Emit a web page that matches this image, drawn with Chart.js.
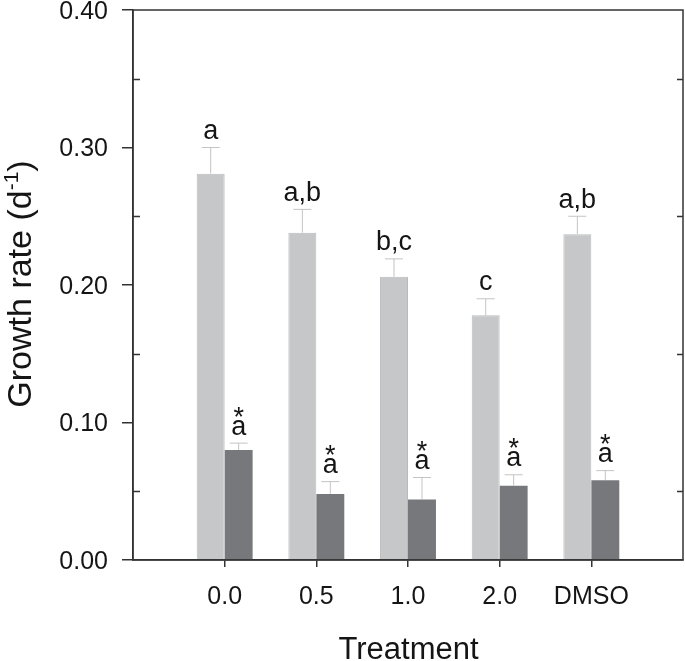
<!DOCTYPE html>
<html>
<head>
<meta charset="utf-8">
<script src="https://cdn.jsdelivr.net/npm/chart.js@4.4.1/dist/chart.umd.min.js"></script>
<style>
    body { margin: 0; background: #fff; }
    #wrap { width: 685px; height: 661px; }
</style>
</head>
<body>
<div id="wrap"><canvas id="growth-chart" width="685" height="661"></canvas></div>
<script>
// Growth rate by treatment

const categories = ['0.0', '0.5', '1.0', '2.0', 'DMSO'];
const lightValues = [0.281, 0.238, 0.206, 0.178, 0.237];
const lightErrors = [0.019, 0.017, 0.013, 0.012, 0.013];
const darkValues = [0.080, 0.048, 0.044, 0.054, 0.058];
const darkErrors = [0.005, 0.009, 0.016, 0.008, 0.007];
const lightLetters = ['a', 'a,b', 'b,c', 'c', 'a,b'];
const darkLetters = ['a', 'a', 'a', 'a', 'a'];
const yTicks = [0, 0.1, 0.2, 0.3, 0.4];
const yMinorTicks = [0.05, 0.15, 0.25, 0.35];

const FONT = "'Liberation Sans', Arial, sans-serif";
const AXIS_COLOR = '#333333';
const TEXT_COLOR = '#151515';

// empty slots at both ends so the groups sit at 1..5 of a 0..6 range
const labels = ['', ...categories, ''];
const pad = arr => [null, ...arr, null];

const annotations = {
    id: 'annotations',
    afterDatasetsDraw(chart) {
        const ctx = chart.ctx;
        const y = chart.scales.y;
        const sets = [
            { meta: chart.getDatasetMeta(0), values: lightValues, errors: lightErrors, letters: lightLetters, star: false },
            { meta: chart.getDatasetMeta(1), values: darkValues, errors: darkErrors, letters: darkLetters, star: true }
        ];

        ctx.save();
        sets.forEach(s => {
            s.values.forEach((v, i) => {
                const bar = s.meta.data[i + 1];
                const top = y.getPixelForValue(v);
                const cap = y.getPixelForValue(v + s.errors[i]);

                // error bar (upper only)
                ctx.strokeStyle = '#c4c4c4';
                ctx.lineWidth = 1;
                ctx.beginPath();
                ctx.moveTo(bar.x, top);
                ctx.lineTo(bar.x, cap);
                ctx.moveTo(bar.x - 9, cap);
                ctx.lineTo(bar.x + 9, cap);
                ctx.stroke();

                // letters
                ctx.fillStyle = TEXT_COLOR;
                ctx.textAlign = 'center';
                ctx.textBaseline = 'alphabetic';
                ctx.font = `27px ${FONT}`;
                const base = cap - 8.5;
                ctx.fillText(s.letters[i], bar.x, base);
                if (s.star) {
                    ctx.fillText('*', bar.x, base - 9);
                }
            });
        });
        ctx.restore();
    },
    afterDraw(chart) {
        const ctx = chart.ctx;
        const area = chart.chartArea;
        const y = chart.scales.y;

        ctx.save();
        ctx.strokeStyle = AXIS_COLOR;
        ctx.lineWidth = 1.5;

        // frame
        ctx.strokeRect(area.left, area.top, area.right - area.left, area.bottom - area.top);

        // inward minor ticks, left and right
        ctx.beginPath();
        yMinorTicks.forEach(v => {
            const py = Math.round(y.getPixelForValue(v)) + 0.5;
            ctx.moveTo(area.left, py);
            ctx.lineTo(area.left + 7, py);
            ctx.moveTo(area.right, py);
            ctx.lineTo(area.right - 6, py);
        });
        ctx.stroke();

        // axis titles
        ctx.fillStyle = TEXT_COLOR;
        ctx.textBaseline = 'alphabetic';
        ctx.font = `31px ${FONT}`;
        ctx.textAlign = 'center';
        ctx.fillText('Treatment', (area.left + area.right) / 2 + 0.5, 659);

        ctx.translate(31, 284);
        ctx.rotate(-Math.PI / 2);
        const main = 'Growth rate (d';
        const sup = '-1';
        const end = ')';
        ctx.font = `34px ${FONT}`;
        const wMain = ctx.measureText(main).width;
        const wEnd = ctx.measureText(end).width;
        ctx.font = `21px ${FONT}`;
        const wSup = ctx.measureText(sup).width;
        let x = -(wMain + wSup + wEnd) / 2;
        ctx.textAlign = 'left';
        ctx.font = `34px ${FONT}`;
        ctx.fillText(main, x, 0);
        x += wMain;
        ctx.font = `21px ${FONT}`;
        ctx.fillText(sup, x, -13);
        x += wSup;
        ctx.font = `34px ${FONT}`;
        ctx.fillText(end, x, 0);
        ctx.restore();
    }
};

const chart = new Chart(document.getElementById('growth-chart').getContext('2d'), {
    type: 'bar',
    data: {
        labels: labels,
        datasets: [
            {
                label: 'Light',
                data: pad(lightValues),
                backgroundColor: '#c6c7c9',
                borderColor: '#b9babc',
                borderWidth: 1,
                categoryPercentage: 0.61,
                barPercentage: 1.0
            },
            {
                label: 'Dark',
                data: pad(darkValues),
                backgroundColor: '#77787b',
                borderWidth: 0,
                categoryPercentage: 0.61,
                barPercentage: 1.0
            }
        ]
    },
    options: {
        responsive: false,
        animation: false,
        layout: { padding: { top: 10, right: 2, left: 0, bottom: 0 } },
        plugins: {
            legend: { display: false },
            tooltip: { enabled: false }
        },
        scales: {
            x: {
                type: 'category',
                offset: false,
                afterFit: scale => {
                    scale.height = 101;
                    scale.paddingLeft = 0;
                    scale.paddingRight = 0;
                },
                grid: {
                    offset: false,
                    drawOnChartArea: false,
                    tickLength: 7,
                    lineWidth: 1.5,
                    color: c => (c.index === 0 || c.index === labels.length - 1) ? 'rgba(0,0,0,0)' : AXIS_COLOR
                },
                border: { color: AXIS_COLOR, width: 1.5 },
                ticks: {
                    autoSkip: false,
                    maxRotation: 0,
                    padding: 15,
                    color: TEXT_COLOR,
                    font: { family: FONT, size: 25 }
                }
            },
            y: {
                min: 0,
                max: 0.4,
                afterFit: scale => {
                    scale.width = 133;
                    scale.paddingTop = 0;
                    scale.paddingBottom = 0;
                },
                afterBuildTicks: scale => { scale.ticks = yTicks.map(v => ({ value: v })); },
                grid: {
                    drawOnChartArea: false,
                    tickLength: 11,
                    lineWidth: 1.5,
                    color: AXIS_COLOR
                },
                border: { color: AXIS_COLOR, width: 1.5 },
                ticks: {
                    padding: 14,
                    labelOffset: 2,
                    color: TEXT_COLOR,
                    font: { family: FONT, size: 25 },
                    callback: value => value.toFixed(2)
                }
            }
        }
    },
    plugins: [annotations]
});
</script>
</body>
</html>
